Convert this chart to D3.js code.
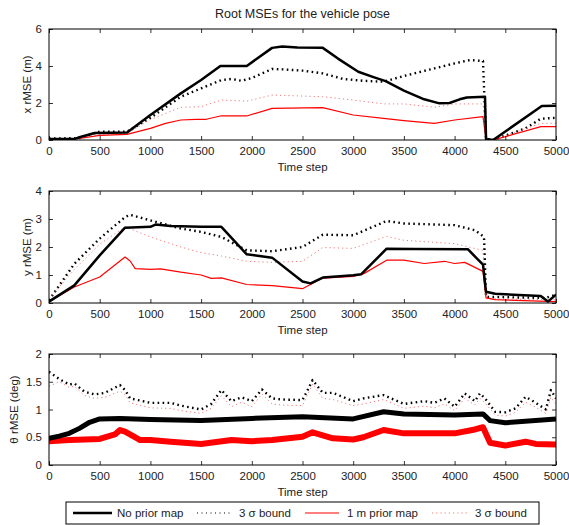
<!DOCTYPE html>
<html>
<head>
<meta charset="utf-8">
<script src="https://cdn.jsdelivr.net/npm/d3@7"></script>
<style>
  body { margin: 0; background: #fff; }
  text { font-family: "Liberation Sans", Arial, sans-serif; fill: #222; }
</style>
</head>
<body>
<div class="chart"></div>
<script>
// ---- data (time step, value) ----
const xTicks = [0, 500, 1000, 1500, 2000, 2500, 3000, 3500, 4000, 4500, 5000];

const xNoMap = [[0,0.05],[250,0.05],[300,0.15],[450,0.38],[770,0.4],[1000,1.35],[1300,2.52],[1500,3.24],[1690,4.0],[1950,4.0],[2200,4.98],[2300,5.05],[2450,5.0],[2700,4.98],[2850,4.4],[3050,3.69],[3200,3.4],[3320,3.18],[3500,2.67],[3700,2.2],[3850,1.98],[3950,2.0],[4050,2.2],[4120,2.3],[4300,2.34],[4310,0.05],[4380,0.0],[4860,1.84],[5000,1.85]];
const xNoMapBound = [[0,0.08],[300,0.1],[500,0.45],[770,0.45],[1000,1.2],[1300,2.34],[1500,2.79],[1700,3.24],[1800,3.3],[1900,3.2],[2000,3.35],[2200,3.84],[2300,3.82],[2500,3.75],[2700,3.6],[2900,3.3],[3100,3.2],[3300,3.15],[3500,3.46],[3800,3.87],[4000,4.14],[4150,4.32],[4280,4.27],[4310,0.05],[4380,0.0],[4700,0.63],[4850,1.15],[5000,1.2]];
const xMap = [[0,0.05],[300,0.08],[500,0.25],[770,0.3],[1000,0.63],[1150,0.9],[1300,1.08],[1450,1.12],[1550,1.12],[1700,1.31],[1950,1.3],[2200,1.71],[2700,1.75],[3000,1.35],[3300,1.17],[3500,1.05],[3800,0.9],[4000,1.08],[4280,1.26],[4310,0.05],[4380,0.0],[4850,0.72],[5000,0.72]];
const xMapBound = [[0,0.05],[300,0.1],[500,0.3],[770,0.35],[1000,1.1],[1300,1.77],[1500,1.8],[1700,2.16],[1950,2.1],[2200,2.43],[2700,2.34],[3000,2.16],[3300,1.95],[3500,1.95],[3800,1.77],[4000,1.95],[4280,1.95],[4310,0.05],[4380,0.0],[4850,0.9],[5000,0.9]];

const yNoMap = [[0,0.05],[250,0.63],[500,1.7],[750,2.69],[1000,2.72],[1050,2.8],[1200,2.75],[1500,2.72],[1700,2.72],[1950,1.74],[2200,1.62],[2500,0.77],[2580,0.7],[2700,0.91],[3000,0.99],[3080,1.03],[3330,1.94],[3600,1.93],[4130,1.92],[4280,1.37],[4310,0.4],[4400,0.33],[4850,0.25],[4920,0.05],[5000,0.3]];
const yNoMapBound = [[0,0.1],[250,1.4],[500,2.3],[750,3.07],[800,3.15],[1000,2.95],[1300,2.66],[1500,2.54],[1700,2.36],[1950,1.88],[2200,1.85],[2500,2.0],[2700,2.44],[3000,2.42],[3330,2.93],[3500,2.84],[4000,2.78],[4200,2.6],[4290,2.36],[4310,0.22],[4900,0.18],[5000,0.3]];
const yMap = [[0,0.05],[250,0.57],[500,0.93],[750,1.64],[800,1.5],[850,1.23],[1000,1.2],[1100,1.22],[1300,1.1],[1500,1.0],[1600,0.88],[1700,0.9],[1950,0.66],[2200,0.62],[2500,0.51],[2700,0.89],[3000,0.95],[3100,1.04],[3330,1.53],[3500,1.53],[3700,1.41],[3900,1.49],[4000,1.41],[4100,1.45],[4280,1.13],[4310,0.18],[4400,0.12],[5000,0.05]];
const yMapBound = [[0,0.15],[250,1.2],[500,2.1],[750,2.72],[1000,2.36],[1300,2.0],[1500,1.8],[1700,1.68],[1950,1.49],[2200,1.45],[2500,1.49],[2700,1.98],[3000,1.95],[3330,2.38],[3500,2.24],[4000,2.12],[4280,1.88],[4310,0.15],[5000,0.12]];

const thNoMap = [[0,0.48],[100,0.52],[200,0.57],[300,0.66],[400,0.77],[500,0.83],[700,0.84],[1000,0.82],[1500,0.8],[2000,0.84],[2500,0.87],[3000,0.83],[3300,0.96],[3500,0.92],[4000,0.9],[4280,0.92],[4350,0.8],[4500,0.76],[5000,0.83]];
const thNoMapBound = [[0,1.68],[100,1.55],[200,1.45],[250,1.47],[350,1.32],[450,1.27],[550,1.3],[700,1.44],[750,1.35],[800,1.2],[1000,1.12],[1200,1.12],[1300,1.07],[1500,1.0],[1600,1.1],[1700,1.35],[1800,1.15],[1900,1.22],[2000,1.15],[2100,1.36],[2200,1.2],[2300,1.18],[2500,1.17],[2600,1.53],[2700,1.3],[2800,1.3],[3000,1.15],[3100,1.2],[3300,1.26],[3500,1.1],[3700,1.15],[3800,1.12],[3900,1.2],[4000,1.05],[4100,1.29],[4200,1.15],[4250,1.29],[4300,1.2],[4400,0.96],[4500,0.95],[4600,1.02],[4700,1.23],[4800,1.12],[4900,1.0],[4950,1.35],[5000,1.2]];
const thMap = [[0,0.43],[200,0.45],[500,0.47],[650,0.55],[700,0.63],[750,0.6],[900,0.45],[1000,0.45],[1200,0.42],[1500,0.38],[1800,0.45],[2000,0.43],[2200,0.45],[2500,0.51],[2600,0.59],[2800,0.48],[3000,0.46],[3100,0.5],[3300,0.63],[3500,0.57],[4000,0.57],[4200,0.64],[4280,0.68],[4350,0.4],[4500,0.35],[4700,0.42],[4800,0.38],[5000,0.37]];
const thMapBound = [[0,1.42],[100,1.5],[200,1.4],[250,1.42],[350,1.25],[450,1.2],[550,1.22],[700,1.33],[750,1.27],[800,1.12],[1000,1.03],[1200,1.02],[1300,0.98],[1500,0.93],[1600,1.02],[1700,1.25],[1800,1.05],[1900,1.13],[2000,1.05],[2100,1.28],[2200,1.1],[2300,1.08],[2500,1.07],[2600,1.46],[2700,1.2],[2800,1.18],[3000,1.07],[3100,1.1],[3300,1.18],[3500,1.02],[3700,1.06],[3800,1.03],[3900,1.1],[4000,0.98],[4100,1.2],[4200,1.08],[4250,1.2],[4300,1.12],[4400,0.9],[4500,0.88],[4600,0.95],[4700,1.13],[4800,1.04],[4900,0.93],[4950,1.22],[5000,1.1]];

const panels = [
  {label: "x rMSE (m)", domain: [0, 6], ticks: [0, 2, 4, 6], top: 29, bottom: 140, labelX: 27,
   series: [xNoMapBound, xMapBound, xMap, xNoMap], noisy: false},
  {label: "y rMSE (m)", domain: [0, 4], ticks: [0, 1, 2, 3, 4], top: 191, bottom: 303, labelX: 27,
   series: [yNoMapBound, yMapBound, yMap, yNoMap], noisy: false},
  {label: "θ rMSE (deg)", domain: [0, 2], ticks: [0, 0.5, 1, 1.5, 2], top: 354, bottom: 465, labelX: 14,
   series: [thNoMapBound, thMapBound, thMap, thNoMap], noisy: true}
];

const legendNames = ["No prior map", "3 σ bound", "1 m prior map", "3 σ bound"];

const width = 569, height = 525;
const left = 49, right = 556;

const styles = [
  {stroke: "#000", width: 2.4, dash: "1.6,3.4"},     // no-map bound
  {stroke: "#f27a7a", width: 1, dash: "1.2,3"},      // map bound
  {stroke: "#f00", width: 1.2, dash: null},          // map
  {stroke: "#000", width: 2.5, dash: null}           // no map
];

const svg = d3.select('.chart').append('svg')
  .attr('width', width)
  .attr('height', height);

svg.append("text")
  .attr("x", (left + right) / 2)
  .attr("y", 18)
  .attr("text-anchor", "middle")
  .style("font-size", "12.5px")
  .text("Root MSEs for the vehicle pose");

const xScale = d3.scaleLinear().domain([0, 5000]).range([left, right]);

panels.forEach((p, pi) => {
  const yScale = d3.scaleLinear().domain(p.domain).range([p.bottom, p.top]);
  const g = svg.append('g');

  const clipId = 'clip' + pi;
  g.append('clipPath').attr('id', clipId)
    .append('rect')
    .attr('x', left).attr('y', p.top)
    .attr('width', right - left).attr('height', p.bottom - p.top);

  const line = d3.line().x(d => xScale(d[0])).y(d => yScale(d[1]));

  const lines = g.append('g').attr('clip-path', `url(#${clipId})`);
  p.series.forEach((s, si) => {
    const st = styles[si];
    let w = st.width;
    if (p.noisy && si == 2) w = 6;
    if (p.noisy && si == 3) w = 5;
    lines.append('path')
      .datum(s)
      .attr('fill', 'none')
      .attr('stroke', st.stroke)
      .attr('stroke-width', w)
      .attr('stroke-dasharray', st.dash)
      .attr('stroke-linejoin', 'round')
      .attr('d', line);
  });

  // axes with inward ticks, mirrored on all sides (gnuplot look)
  const bottomAxis = d3.axisBottom(xScale).tickValues(xTicks).tickSize(-4).tickPadding(7)
    .tickFormat(d3.format('d'));
  const topAxis = d3.axisTop(xScale).tickValues(xTicks).tickSize(-4).tickFormat('');
  const leftAxis = d3.axisLeft(yScale).tickValues(p.ticks).tickSize(-4).tickPadding(7)
    .tickFormat(d3.format('~g'));
  const rightAxis = d3.axisRight(yScale).tickValues(p.ticks).tickSize(-4).tickFormat('');

  [[bottomAxis, `translate(0,${p.bottom})`], [topAxis, `translate(0,${p.top})`],
   [leftAxis, `translate(${left},0)`], [rightAxis, `translate(${right},0)`]].forEach(a => {
    const ax = g.append('g').attr('transform', a[1]).call(a[0]);
    ax.select('.domain').remove();
    ax.selectAll('line').attr('stroke', '#000').attr('stroke-width', 0.8);
    ax.selectAll('text').style('font-size', '11.5px').attr('fill', '#222')
      .style('font-family', '"Liberation Sans", Arial, sans-serif');
  });

  g.append('rect')
    .attr('x', left).attr('y', p.top)
    .attr('width', right - left).attr('height', p.bottom - p.top)
    .attr('fill', 'none').attr('stroke', '#000').attr('stroke-width', 1);

  g.append('text')
    .attr('x', (left + right) / 2)
    .attr('y', p.bottom + 31)
    .attr('text-anchor', 'middle')
    .style('font-size', '11.5px')
    .text('Time step');

  g.append('text')
    .attr('transform', `translate(${p.labelX + 4},${(p.top + p.bottom) / 2}) rotate(-90)`)
    .attr('text-anchor', 'middle')
    .style('font-size', '11.5px')
    .text(p.label);
});

// legend
const legend = svg.append('g');
legend.append('rect')
  .attr('x', 66).attr('y', 502).attr('width', 473).attr('height', 22)
  .attr('fill', '#fff').attr('stroke', '#000').attr('stroke-width', 1);

const legendItems = [
  {x1: 73, x2: 112, tx: 117, st: styles[3]},
  {x1: 197, x2: 232, tx: 239, st: {stroke: "#000", width: 1, dash: "1,3.5"}},
  {x1: 305, x2: 339, tx: 347, st: styles[2]},
  {x1: 432, x2: 468, tx: 475, st: styles[1]}
];

legendItems.forEach((it, i) => {
  legend.append('line')
    .attr('x1', it.x1).attr('x2', it.x2).attr('y1', 513).attr('y2', 513)
    .attr('stroke', it.st.stroke)
    .attr('stroke-width', it.st.width)
    .attr('stroke-dasharray', it.st.dash);
  legend.append('text')
    .attr('x', it.tx).attr('y', 517)
    .style('font-size', '11.5px')
    .text(legendNames[i]);
});
</script>
</body>
</html>
